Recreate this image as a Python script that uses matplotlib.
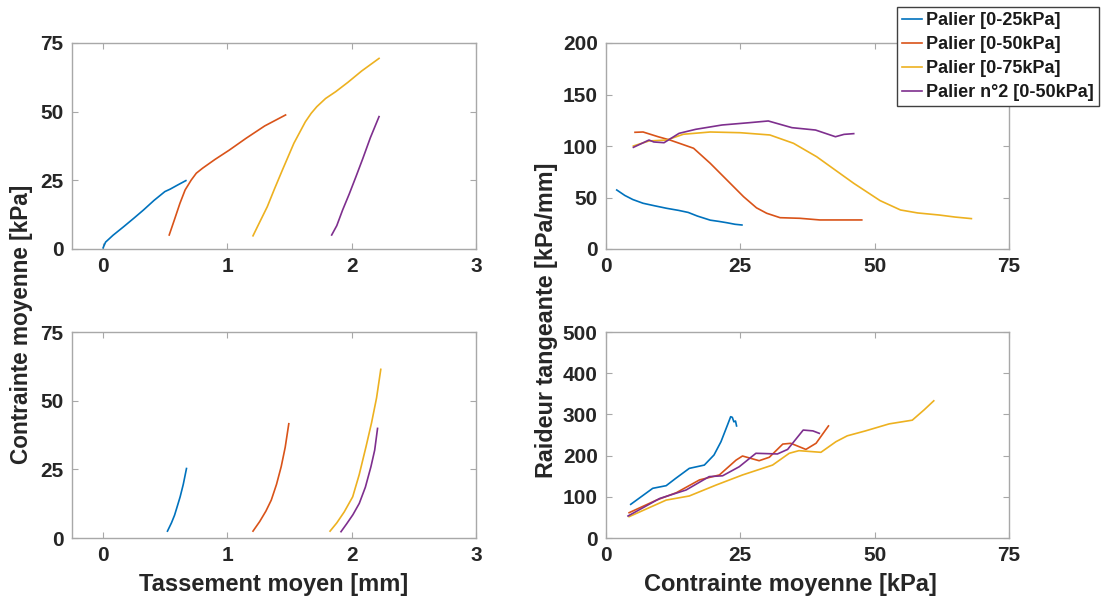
import matplotlib
matplotlib.use("Agg")
import matplotlib.pyplot as plt

plt.rcParams['font.family'] = ['Liberation Sans', 'DejaVu Sans']
plt.rcParams['font.weight'] = 'bold'

# ---- data ----
labels = ["Palier [0-25kPa]", "Palier [0-50kPa]", "Palier [0-75kPa]", "Palier n°2 [0-50kPa]"]
colors = ["#0072BD", "#D95319", "#EDB120", "#7E2F8E"]

# top-left: settlement (mm) vs stress (kPa)
tl_x_blue = [0, 0.02, 0.08, 0.165, 0.25, 0.325, 0.41, 0.497, 0.54, 0.6, 0.666]
tl_y_blue = [0.4, 2.5, 5.0, 8.1, 11.3, 14.2, 17.7, 20.9, 21.8, 23.3, 24.9]
tl_x_orange = [0.532, 0.575, 0.618, 0.66, 0.709, 0.75, 0.80, 0.9, 1.015, 1.15, 1.3, 1.468]
tl_y_orange = [5.1, 10.8, 16.6, 21.5, 25.1, 27.6, 29.4, 32.6, 36, 40.3, 44.8, 48.8]
tl_x_yellow = [1.206, 1.26, 1.321, 1.38, 1.443, 1.535, 1.627, 1.674, 1.719, 1.79, 1.872, 1.97, 2.08, 2.22]
tl_y_yellow = [4.8, 9.8, 15.4, 22, 28.8, 38.5, 46.3, 49.4, 51.8, 54.8, 57.3, 60.7, 64.8, 69.4]
tl_x_purple = [1.839, 1.88, 1.927, 1.98, 2.034, 2.09, 2.15, 2.22]
tl_y_purple = [5.1, 8.5, 14.2, 20, 26.3, 33, 40.5, 48.2]

# bottom-left: settlement (mm) vs stress (kPa), reloading
bl_x_blue = [0.518, 0.55, 0.575, 0.596, 0.62, 0.645, 0.671]
bl_y_blue = [2.5, 5.5, 8.3, 11.4, 15, 19.5, 25.3]
bl_x_orange = [1.206, 1.26, 1.31, 1.353, 1.395, 1.433, 1.465, 1.494]
bl_y_orange = [2.5, 6, 9.8, 13.8, 19.5, 26, 33, 41.6]
bl_x_yellow = [1.826, 1.88, 1.94, 2.008, 2.06, 2.115, 2.16, 2.2, 2.234]
bl_y_yellow = [2.5, 5.5, 9.5, 15, 23, 33.2, 42, 51, 61.4]
bl_x_purple = [1.914, 1.96, 2.01, 2.061, 2.11, 2.155, 2.185, 2.208]
bl_y_purple = [2.3, 5.2, 8.5, 12.6, 18.5, 26, 32, 39.9]

# top-right: stress (kPa) vs tangent stiffness (kPa/mm)
tr_x_blue = [2, 3.5, 5, 6.9, 9, 11.3, 13.5, 15.3, 17, 19.4, 21, 22.5, 24, 25.3]
tr_y_blue = [57.3, 52, 48, 44.4, 42, 39.5, 37.5, 35.5, 32, 28, 26.8, 25.5, 24, 23.3]
tr_x_orange = [5.4, 6.9, 9.7, 11.9, 14, 16.3, 19.4, 22.5, 25.6, 28, 29.9, 32.4, 36.1, 39.8, 47.6]
tr_y_orange = [113.3, 113.6, 109, 105.8, 102, 97.8, 83.2, 67, 50.8, 40, 34.7, 30.4, 29.8, 28.2, 28.2]
tr_x_yellow = [5.1, 8.0, 11.3, 14.4, 19.4, 25, 30.5, 34.9, 39.2, 46.1, 51, 54.8, 58, 62, 65, 68]
tr_y_yellow = [100, 104.9, 105.8, 111.4, 113.6, 112.9, 110.7, 102.6, 89.6, 63.8, 47, 37.9, 35, 33, 31, 29.5]
tr_x_purple = [5.1, 8, 8.9, 10.8, 13.6, 16.7, 21.6, 26.6, 30.2, 34.6, 39, 42.7, 44.3, 46.1]
tr_y_purple = [98.7, 105.8, 103.9, 103.2, 112.3, 116.2, 120.4, 122.6, 124.3, 117.8, 115.5, 109, 111.3, 112]

# bottom-right: stress (kPa) vs tangent stiffness (kPa/mm), reloading
br_x_blue = [4.6, 8.7, 11.2, 13, 15.5, 18.3, 20.1, 21.4, 22.6, 23.2, 23.5, 23.8, 24.1, 24.3]
br_y_blue = [81.7, 120.6, 127, 145, 169, 177, 201.5, 233.8, 274, 294.4, 293, 282, 284, 272]
br_x_orange = [4.3, 9.4, 13.1, 17.4, 21.1, 24.2, 25.4, 28.5, 30.4, 32.9, 34.4, 37.2, 39.1, 41.4]
br_y_orange = [61.4, 92, 110, 141, 153, 189, 199, 187.6, 196, 228, 229.8, 215, 230, 272]
br_x_yellow = [4.3, 11.2, 15.5, 20.5, 25.4, 31, 34.1, 35.9, 40, 42.8, 44.9, 48.3, 52.7, 57, 59.2, 61]
br_y_yellow = [51.8, 92, 102, 128.6, 153, 177, 205.6, 212, 208, 233.8, 248, 260, 277, 286, 311, 333]
br_x_purple = [4.1, 10, 14.9, 19.2, 21.7, 24.8, 27.9, 31.9, 33.8, 36.7, 38.5, 39.7]
br_y_purple = [53.4, 96, 116.5, 149, 151, 173, 205.6, 204, 215, 262, 260, 254]

left_xticks = [0, 1, 2, 3]
left_yticks = [0, 25, 50, 75]
right_xticks = [0, 25, 50, 75]
tr_yticks = [0, 50, 100, 150, 200]
br_yticks = [0, 100, 200, 300, 400, 500]

# ---- figure ----
W, H = 1106, 603
fig = plt.figure(figsize=(W / 100, H / 100), dpi=100)

def px_axes(l, t, r, b):
    return fig.add_axes([l / W, 1 - b / H, (r - l) / W, (b - t) / H])

ax_tl = px_axes(72, 43, 476, 249)
ax_bl = px_axes(72, 332, 476, 538)
ax_tr = px_axes(606, 43, 1009, 249)
ax_br = px_axes(606, 332, 1009, 538)

frame_col = "#a8a8a8"
tick_col = "#262626"

def style(ax, xlim, ylim, xt, yt):
    ax.set_xlim(*xlim)
    ax.set_ylim(*ylim)
    ax.set_xticks(xt)
    ax.set_yticks(yt)
    for s in ax.spines.values():
        s.set_color(frame_col)
        s.set_linewidth(1.0)
    ax.tick_params(direction='in', length=4, width=0.8, color=frame_col,
                   labelcolor=tick_col, labelsize=15, top=True, right=True, pad=6)
    for lab in ax.get_xticklabels() + ax.get_yticklabels():
        lab.set_fontweight('bold')

lw = 1.2
sets = [
    (ax_tl, [(tl_x_blue, tl_y_blue), (tl_x_orange, tl_y_orange), (tl_x_yellow, tl_y_yellow), (tl_x_purple, tl_y_purple)]),
    (ax_bl, [(bl_x_blue, bl_y_blue), (bl_x_orange, bl_y_orange), (bl_x_yellow, bl_y_yellow), (bl_x_purple, bl_y_purple)]),
    (ax_tr, [(tr_x_blue, tr_y_blue), (tr_x_orange, tr_y_orange), (tr_x_yellow, tr_y_yellow), (tr_x_purple, tr_y_purple)]),
    (ax_br, [(br_x_blue, br_y_blue), (br_x_orange, br_y_orange), (br_x_yellow, br_y_yellow), (br_x_purple, br_y_purple)]),
]
handles = []
for ax, series in sets:
    hs = []
    for (x, y), c, lab in zip(series, colors, labels):
        h, = ax.plot(x, y, color=c, lw=lw, label=lab)
        hs.append(h)
    if ax is ax_tr:
        handles = hs

style(ax_tl, (-0.25, 3), (0, 75), left_xticks, left_yticks)
style(ax_bl, (-0.25, 3), (0, 75), left_xticks, left_yticks)
style(ax_tr, (0, 75), (0, 200), right_xticks, tr_yticks)
style(ax_br, (0, 75), (0, 500), right_xticks, br_yticks)

lab_kw = dict(fontweight='bold', color=tick_col, ha='center', va='center')
fig.text(274 / W, 1 - 585 / H, "Tassement moyen [mm]", fontsize=17, **lab_kw)
fig.text(790 / W, 1 - 585 / H, "Contrainte moyenne [kPa]", fontsize=17, **lab_kw)
fig.text(22 / W, 1 - 324 / H, "Contrainte moyenne [kPa]", rotation=90, fontsize=16.3, **lab_kw)
fig.text(546 / W, 1 - 320 / H, "Raideur tangeante [kPa/mm]", rotation=90, fontsize=16.8, **lab_kw)

leg = fig.legend(handles, labels, loc='upper right',
                 bbox_to_anchor=(1099 / W, 1 - 7 / H), borderaxespad=0,
                 prop={'size': 13, 'weight': 'bold'}, handlelength=1.1,
                 handletextpad=0.2, labelspacing=0.38, borderpad=0.3,
                 fancybox=False, framealpha=1, edgecolor='#404040')
leg.get_frame().set_linewidth(1.0)
for t in leg.get_texts():
    t.set_color('#1a1a1a')

fig.savefig("out.png", dpi=100)
